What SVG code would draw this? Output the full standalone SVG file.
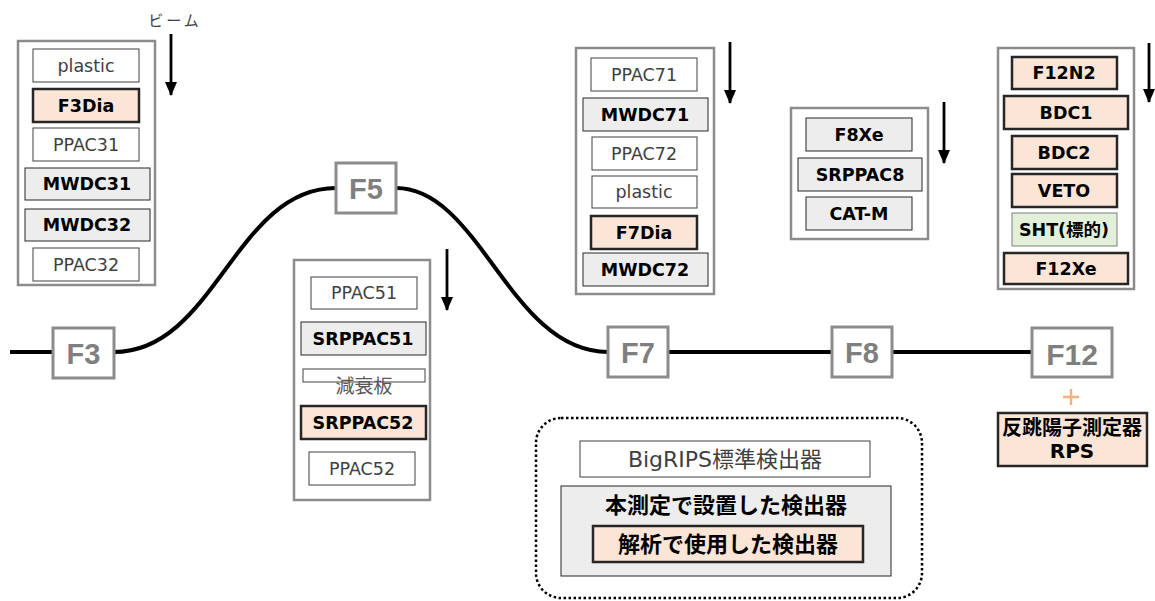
<svg xmlns="http://www.w3.org/2000/svg" width="1155" height="601" viewBox="0 0 1155 601">
<style>
.grp{fill:#fff;stroke:#8c8c8c;stroke-width:2.5}
.w{fill:#fff;stroke:#404040;stroke-width:1}
.g{fill:#ededed;stroke:#262626;stroke-width:1}
.p{fill:#fbe5d6;stroke:#262626;stroke-width:2.5}
.s{fill:#e2f0d9;stroke:#7f7f7f;stroke-width:1}
text{font-family:"DejaVu Sans","Noto Sans CJK JP",sans-serif;text-anchor:middle;dominant-baseline:central}
.tw{font-size:17.5px;fill:#404040}
.tb{font-size:17.5px;font-weight:bold;fill:#000}
.rps{font-size:20px;font-weight:bold;fill:#000}
.fr{fill:#fff;stroke:#8c8c8c;stroke-width:3}
.ft{font-family:"Liberation Sans",sans-serif;font-size:29px;font-weight:bold;fill:#7f7f7f}
.beam{fill:none;stroke:#000;stroke-width:4}
.arr{stroke:#000;stroke-width:2.8;marker-end:url(#ah)}
.jp{font-family:"Noto Sans CJK JP",sans-serif}
</style>
<defs>
<marker id="ah" markerUnits="userSpaceOnUse" markerWidth="14" markerHeight="12" refX="13" refY="6" orient="auto" viewBox="0 0 14 12">
<path d="M0,0 L14,6 L0,12 Z" fill="#000"/>
</marker>
</defs>

<g id="connectors">
<path class="beam" d="M10,352 H53"/>
<path class="beam" d="M114,352 C215,352 235,188 336,188"/>
<path class="beam" d="M396,188 C480,188 510,352 608,352"/>
<path class="beam" d="M668,352 H832"/>
<path class="beam" d="M892,352 H1032"/>
<line class="arr" x1="171" y1="34" x2="171" y2="95"/>
<line class="arr" x1="447" y1="249" x2="447" y2="310"/>
<line class="arr" x1="730" y1="42" x2="730" y2="103"/>
<line class="arr" x1="944" y1="102" x2="944" y2="163"/>
<line class="arr" x1="1149" y1="43" x2="1149" y2="102"/>
<path d="M1063,397 H1079 M1071,389 V405" stroke="#f4b183" stroke-width="2.5" fill="none"/>
</g>

<g id="beam-label"><text class="jp" x="175" y="19" font-size="15" letter-spacing="3" fill="#404040">ビーム</text></g>

<g id="F3-detectors">
<rect class="grp" x="18" y="41" width="137" height="244"/>
<rect class="w" x="33" y="49" width="106" height="33"/><text class="tw" x="86" y="66">plastic</text>
<rect class="p" x="33" y="89" width="106" height="33"/><text class="tb" x="86" y="106">F3Dia</text>
<rect class="w" x="33" y="128" width="106" height="33"/><text class="tw" x="86" y="145">PPAC31</text>
<rect class="g" x="25" y="168" width="125" height="32"/><text class="tb" x="87" y="184">MWDC31</text>
<rect class="g" x="25" y="209" width="125" height="32"/><text class="tb" x="87" y="225">MWDC32</text>
<rect class="w" x="33" y="248" width="106" height="33"/><text class="tw" x="86" y="265">PPAC32</text>
</g>

<g id="F5-detectors">
<rect class="grp" x="294" y="260" width="136" height="240"/>
<rect class="w" x="311" y="277" width="106" height="32"/><text class="tw" x="364" y="293">PPAC51</text>
<rect class="g" x="301" y="322" width="125" height="33"/><text class="tb" x="363" y="339">SRPPAC51</text>
<rect class="w" x="303" y="369" width="122" height="13"/><text class="jp" x="364" y="384" font-size="19" fill="#595959">減衰板</text>
<rect class="p" x="301" y="406" width="125" height="33"/><text class="tb" x="363" y="423">SRPPAC52</text>
<rect class="w" x="309" y="452" width="106" height="33"/><text class="tw" x="362" y="469">PPAC52</text>
</g>

<g id="F7-detectors">
<rect class="grp" x="576" y="48" width="138" height="246"/>
<rect class="w" x="591" y="58" width="106" height="33"/><text class="tw" x="644" y="75">PPAC71</text>
<rect class="g" x="583" y="98" width="125" height="33"/><text class="tb" x="645" y="115">MWDC71</text>
<rect class="w" x="592" y="137" width="105" height="33"/><text class="tw" x="644" y="154">PPAC72</text>
<rect class="w" x="592" y="176" width="105" height="32"/><text class="tw" x="644" y="192">plastic</text>
<rect class="p" x="591" y="216" width="106" height="33"/><text class="tb" x="644" y="233">F7Dia</text>
<rect class="g" x="583" y="253" width="125" height="33"/><text class="tb" x="645" y="270">MWDC72</text>
</g>

<g id="F8-detectors">
<rect class="grp" x="791" y="108" width="137" height="131"/>
<rect class="g" x="806" y="118" width="106" height="33"/><text class="tb" x="859" y="135">F8Xe</text>
<rect class="g" x="798" y="158" width="124" height="33"/><text class="tb" x="860" y="175">SRPPAC8</text>
<rect class="g" x="806" y="197" width="106" height="33"/><text class="tb" x="859" y="214">CAT-M</text>
</g>

<g id="F12-detectors">
<rect class="grp" x="998" y="48" width="136" height="241"/>
<rect class="p" x="1012" y="57" width="105" height="32"/><text class="tb" x="1064" y="73">F12N2</text>
<rect class="p" x="1004" y="96" width="124" height="33"/><text class="tb" x="1066" y="113">BDC1</text>
<rect class="p" x="1012" y="136" width="105" height="33"/><text class="tb" x="1064" y="153">BDC2</text>
<rect class="p" x="1012" y="174" width="105" height="33"/><text class="tb" x="1064" y="191">VETO</text>
<rect class="s" x="1012" y="213" width="105" height="33"/><text class="tb" x="1064" y="230">SHT(標的)</text>
<rect class="p" x="1004" y="253" width="124" height="31"/><text class="tb" x="1066" y="269">F12Xe</text>
</g>

<g id="F3"><rect class="fr" x="53" y="328" width="61" height="50"/><text class="ft" x="83.5" y="354">F3</text></g>
<g id="F5"><rect class="fr" x="336" y="163" width="60" height="50"/><text class="ft" x="366" y="189">F5</text></g>
<g id="F7"><rect class="fr" x="608" y="327" width="60" height="50"/><text class="ft" x="638" y="353">F7</text></g>
<g id="F8"><rect class="fr" x="832" y="327" width="60" height="50"/><text class="ft" x="862" y="353">F8</text></g>
<g id="F12"><rect class="fr" x="1032" y="328" width="80" height="49"/><text class="ft" x="1072" y="354" style="font-size:30px">F12</text></g>

<g id="RPS">
<rect class="p" x="998" y="413" width="149" height="53"/>
<text class="rps" x="1072" y="428">反跳陽子測定器</text>
<text class="rps" x="1072" y="451">RPS</text>
</g>

<g id="legend">
<rect x="536" y="418" width="386" height="180" rx="25" fill="none" stroke="#000" stroke-width="2.5" stroke-dasharray="2.5 2.5"/>
<rect class="w" x="580" y="441" width="290" height="36"/><text x="725" y="459" font-size="22" fill="#404040">BigRIPS標準検出器</text>
<rect class="g" x="561" y="486" width="330" height="90"/><text x="726" y="505" font-size="22" font-weight="bold" fill="#000">本測定で設置した検出器</text>
<rect class="p" x="593" y="526" width="270" height="36"/><text x="728" y="544" font-size="22" font-weight="bold" fill="#000">解析で使用した検出器</text>
</g>
</svg>
